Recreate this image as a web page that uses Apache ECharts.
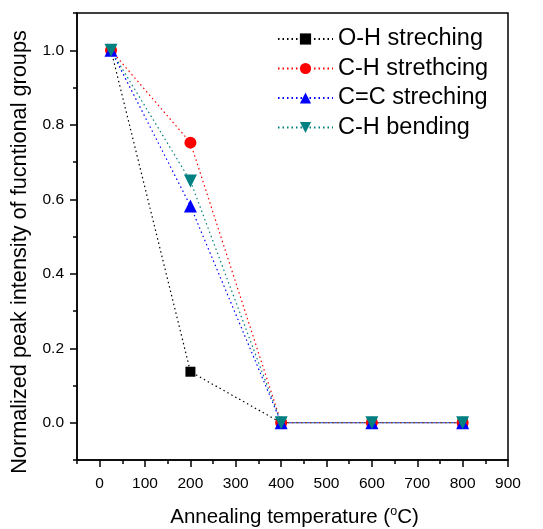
<!DOCTYPE html>
<html><head><meta charset="utf-8">
<script src="https://cdn.jsdelivr.net/npm/echarts@6/dist/echarts.min.js"></script>
<style>html,body{margin:0;padding:0;background:#fff}#c{width:543px;height:529px}</style>
</head><body><div id="c"></div>
<script>
const temps = [25, 200, 400, 600, 800];
const ohStretch = [1.0, 0.137, 0, 0, 0];
const chStretch = [1.0, 0.752, 0, 0, 0];
const ccStretch = [1.0, 0.582, 0, 0, 0];
const chBend = [1.0, 0.649, 0, 0, 0];
const seriesNames = ['O-H streching', 'C-H strethcing', 'C=C streching', 'C-H bending'];
const xTicks = [0, 100, 200, 300, 400, 500, 600, 700, 800, 900];
const yTicks = [0, 0.2, 0.4, 0.6, 0.8, 1.0];
const xTitle = 'Annealing temperature ({sup|o}C)';
const yTitle = 'Normalized peak intensity of fucntional groups';

const FONT = 'Liberation Sans, Arial, sans-serif';
const pair = v => temps.map((t, i) => [t, v[i]]);
const dot = [1.5, 3];

const mk = (name, data, color, symbol, size) => ({
  name, type: 'line', data: pair(data), xAxisIndex: 0, yAxisIndex: 0,
  symbol, symbolSize: size, showSymbol: true,
  lineStyle: { color, width: 1.2, type: dot },
  itemStyle: { color },
  emphasis: { disabled: true }
});

const chart = echarts.init(document.getElementById('c'), null, { renderer: 'canvas' });
chart.setOption({
  animation: false,
  backgroundColor: '#fff',
  grid: { left: 77, right: 35, top: 13, bottom: 69, containLabel: false, outerBoundsMode: 'none',
    show: true, borderColor: '#000', borderWidth: 1.5, backgroundColor: 'transparent' },
  legend: {
    left: 272, top: 21.5, orient: 'vertical', padding: 5,
    itemWidth: 55, itemHeight: 14, itemGap: 4.5,
    textStyle: { fontFamily: FONT, fontSize: 23.5, color: '#000', lineHeight: 25 },
    data: seriesNames
  },
  graphic: [{
    type: 'text', x: 20, y: 252, rotation: Math.PI / 2,
    style: { text: yTitle, font: '21.7px ' + FONT, fill: '#000', align: 'center', verticalAlign: 'middle' }
  }],
  xAxis: [{
    type: 'value', position: 'bottom', min: -50, max: 900, interval: 50,
    name: xTitle, nameLocation: 'middle', nameGap: 45,
    nameTextStyle: { fontFamily: FONT, fontSize: 20.5, color: '#000', padding: [0, 0, 0, 4],
      rich: { sup: { fontFamily: FONT, fontSize: 12.5, color: '#000', verticalAlign: 'top', padding: [0, 0, 11, 0] } } },
    axisLine: { show: true, onZero: false, lineStyle: { color: '#000', width: 1.5 } },
    axisTick: { show: true, inside: false, length: 7, customValues: xTicks, lineStyle: { color: '#000', width: 1.5 } },
    axisLabel: { customValues: xTicks, margin: 16, fontFamily: FONT, fontSize: 15.5, color: '#000' },
    splitLine: { show: false }
  }, {
    type: 'value', position: 'bottom', min: -50, max: 900, interval: 50,
    axisLine: { show: false, onZero: false },
    axisTick: { show: true, inside: false, length: 4, lineStyle: { color: '#000', width: 1.5 } },
    axisLabel: { show: false }, splitLine: { show: false }
  }],
  yAxis: [{
    type: 'value', position: 'left', min: -0.1, max: 1.1, interval: 0.1,
    axisLine: { show: true, onZero: false, lineStyle: { color: '#000', width: 1.5 } },
    axisTick: { show: true, inside: false, length: 7, customValues: yTicks, lineStyle: { color: '#000', width: 1.5 } },
    axisLabel: { customValues: yTicks, margin: 13, fontFamily: FONT, fontSize: 15.5, color: '#000', formatter: v => v.toFixed(1) },
    splitLine: { show: false }
  }, {
    type: 'value', position: 'left', min: -0.1, max: 1.1, interval: 0.1,
    axisLine: { show: false, onZero: false },
    axisTick: { show: true, inside: false, length: 4, lineStyle: { color: '#000', width: 1.5 } },
    axisLabel: { show: false }, splitLine: { show: false }
  }],
  series: [
    mk(seriesNames[0], ohStretch, '#000000', 'rect', 10),
    mk(seriesNames[1], chStretch, '#ff0000', 'circle', 12),
    mk(seriesNames[2], ccStretch, '#0000ff', 'triangle', 13),
    Object.assign(mk(seriesNames[3], chBend, '#008080', 'triangle', 13), { symbolRotate: 180 })
  ]
});
</script></body></html>
